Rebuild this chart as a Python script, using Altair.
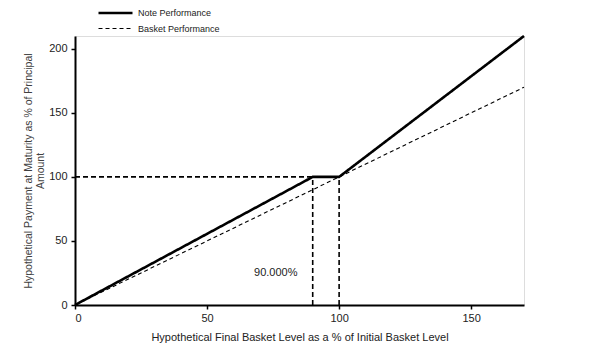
import altair as alt
import pandas as pd

# Data
note_x = [0, 90, 100, 170]
note_y = [0, 100, 100, 210]
basket_x = [0, 170]
basket_y = [0, 170]

ref_h_x = [0, 100]
ref_h_y = [100, 100]
ref_v1_x = [90, 90]
ref_v1_y = [0, 100]
ref_v2_x = [100, 100]
ref_v2_y = [0, 100]

label_text = ["90.000%"]
label_x = [76]
label_y = [25]

series_names = ["Note  Performance", "Basket Performance"]

lines = pd.DataFrame(
    [{"x": a, "y": b, "series": series_names[0], "o": i} for i, (a, b) in enumerate(zip(note_x, note_y))]
    + [{"x": a, "y": b, "series": series_names[1], "o": i} for i, (a, b) in enumerate(zip(basket_x, basket_y))]
)

refs = pd.DataFrame(
    [{"x": a, "y": b, "g": "h", "o": i} for i, (a, b) in enumerate(zip(ref_h_x, ref_h_y))]
    + [{"x": a, "y": b, "g": "v1", "o": i} for i, (a, b) in enumerate(zip(ref_v1_x, ref_v1_y))]
    + [{"x": a, "y": b, "g": "v2", "o": i} for i, (a, b) in enumerate(zip(ref_v2_x, ref_v2_y))]
)

labels = pd.DataFrame({"x": label_x, "y": label_y, "t": label_text})

xscale = alt.Scale(domain=[0, 170], nice=False, zero=False)
yscale = alt.Scale(domain=[0, 210], nice=False, zero=False)

xaxis = alt.Axis(
    title="Hypothetical Final Basket Level as a % of Initial Basket Level",
    values=[0, 50, 100, 150], grid=False, domainColor="black", domainWidth=2,
    tickColor="black", tickSize=4, tickWidth=1.5, labelPadding=3, labelFontSize=11,
    labelColor="#222222", titleFontSize=11, titleFontWeight="normal", titleColor="#222222",
    titlePadding=8, labelFont="Liberation Sans", titleFont="Liberation Sans",
)
yaxis = alt.Axis(
    title=["Hypothetical Payment at Maturity as % of Principal", "Amount"],
    values=[0, 50, 100, 150, 200], grid=False, domainColor="black", domainWidth=2,
    tickColor="black", tickSize=4, tickWidth=1.5, labelPadding=4, labelFontSize=11,
    labelColor="#222222", titleFontSize=10.5, titleFontWeight="normal", titleColor="#404040",
    titlePadding=3, labelFont="Liberation Sans", titleFont="Liberation Sans",
)

legend_kw = dict(
    title=None, orient="none", legendX=22, legendY=-33,
    symbolType="M-1,0H3", symbolSize=289, symbolStrokeColor="black",
    labelFontSize=9, labelFont="Liberation Sans", labelColor="#222222",
    rowPadding=0, labelOffset=21,
)

ref_layer = alt.Chart(refs).mark_line(color="black", strokeWidth=1.6, strokeDash=[5, 3]).encode(
    x=alt.X("x:Q", scale=xscale, axis=xaxis),
    y=alt.Y("y:Q", scale=yscale, axis=yaxis),
    detail="g:N",
    order="o:Q",
)

line_layer = alt.Chart(lines).mark_line(color="black").encode(
    x=alt.X("x:Q", scale=xscale),
    y=alt.Y("y:Q", scale=yscale),
    order="o:Q",
    strokeDash=alt.StrokeDash(
        "series:N",
        scale=alt.Scale(domain=series_names, range=[[1, 0], [4, 3]]),
        legend=alt.Legend(**legend_kw),
    ),
    strokeWidth=alt.StrokeWidth(
        "series:N",
        scale=alt.Scale(domain=series_names, range=[2.6, 1.1]),
        legend=alt.Legend(**legend_kw),
    ),
)

text_layer = alt.Chart(labels).mark_text(
    fontSize=11, font="Liberation Sans", color="#222222"
).encode(
    x=alt.X("x:Q", scale=xscale),
    y=alt.Y("y:Q", scale=yscale),
    text="t:N",
)

chart = alt.layer(ref_layer, line_layer, text_layer).properties(
    width=449, height=269,
    autosize=alt.AutoSizeParams(type="none"),
    padding={"left": 67, "top": 28, "right": 62, "bottom": 42},
).configure_view(stroke=None).configure(background="white")

chart.save("out.html", embed_options={"renderer": "svg", "actions": False})
